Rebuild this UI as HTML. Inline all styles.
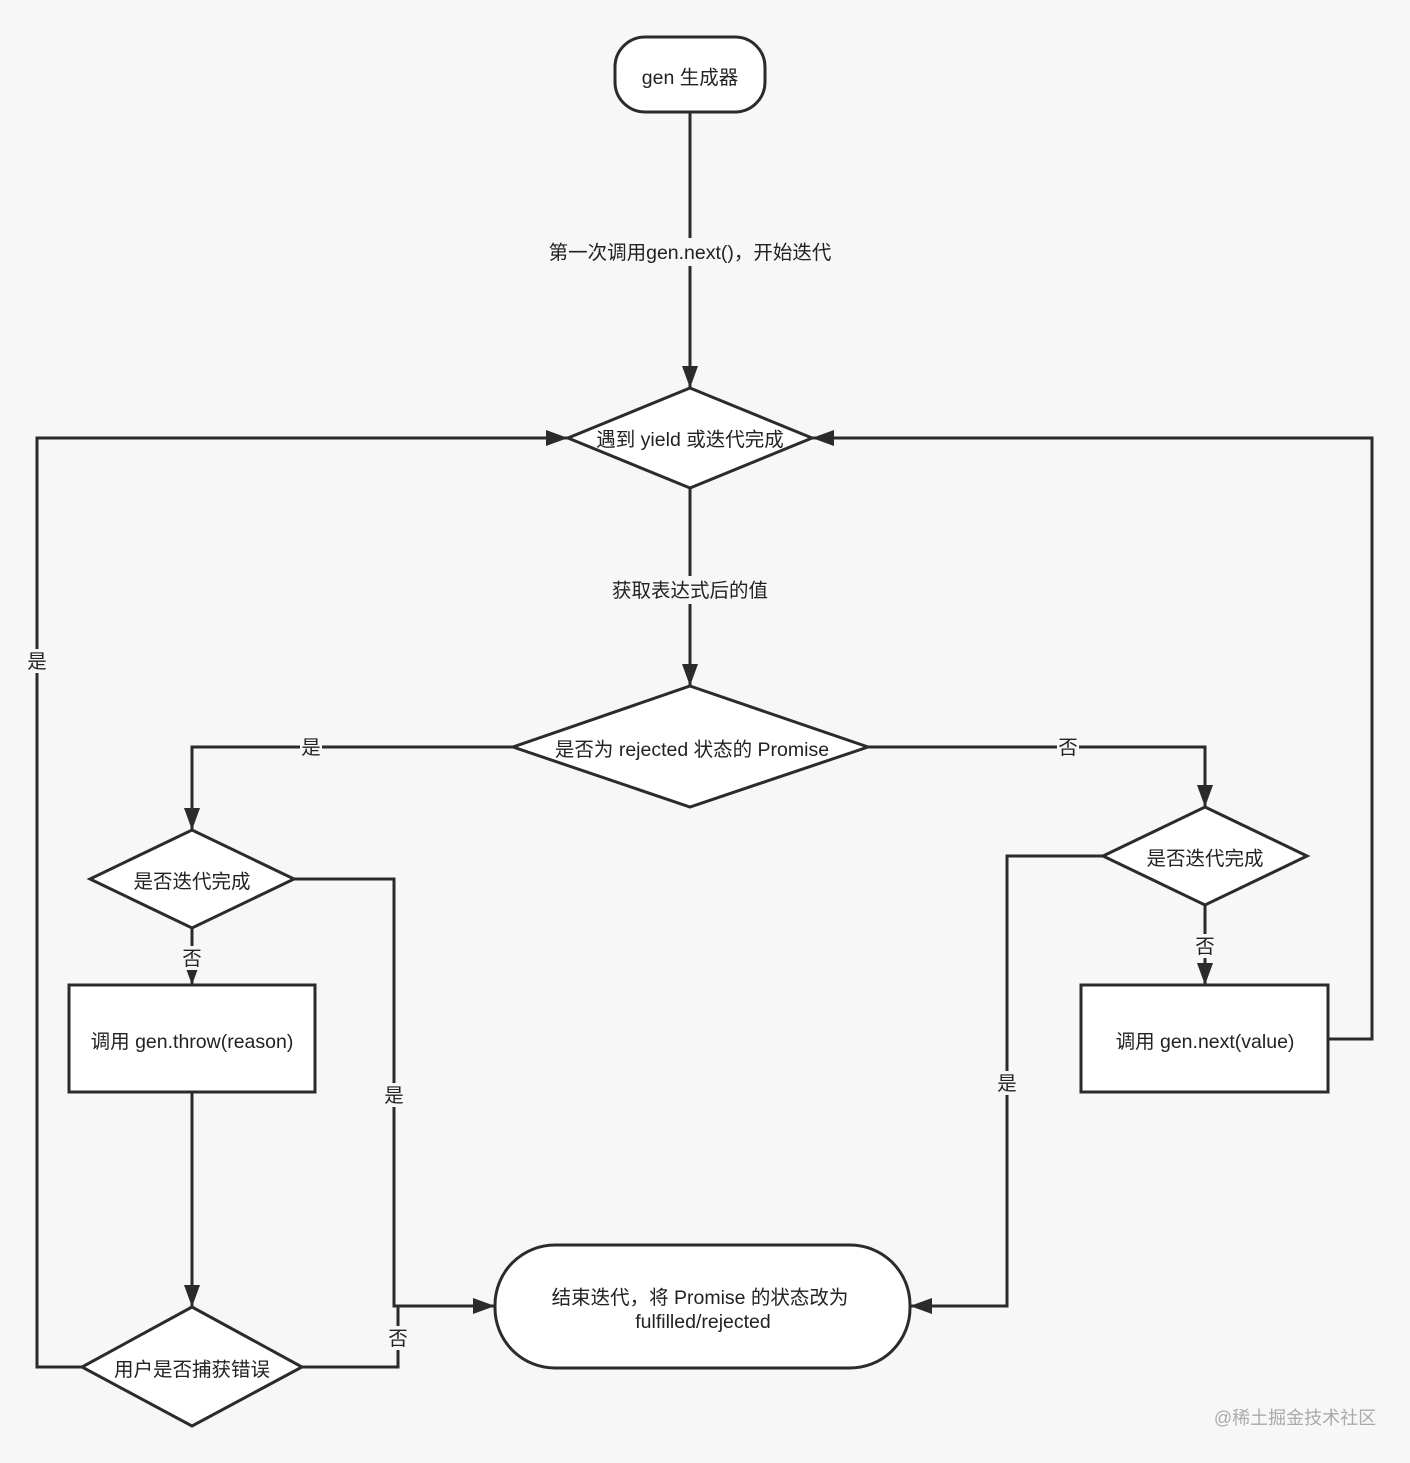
<!DOCTYPE html>
<html><head><meta charset="utf-8"><style>
html,body{margin:0;padding:0;background:#f7f7f7;}
svg{display:block;}
text{font-family:"Liberation Sans","Noto Sans CJK SC",sans-serif;font-size:19.5px;fill:#222;}
</style></head><body>
<svg width="1410" height="1463" viewBox="0 0 1410 1463" xmlns="http://www.w3.org/2000/svg">
<defs>
<marker id="b" markerWidth="22" markerHeight="22" refX="22" refY="11" orient="auto" markerUnits="userSpaceOnUse" viewBox="0 0 22 22">
<path d="M0,3 L22,11 L0,19 z" fill="#2b2b2b"/>
</marker>
</defs>
<rect width="1410" height="1463" fill="#f7f7f7"/>
<g stroke="#2b2b2b" stroke-width="3" fill="none">
<path d="M690,112 V388" marker-end="url(#b)"/>
<path d="M690,488 V686" marker-end="url(#b)"/>
<path d="M513,747 H192 V830" marker-end="url(#b)"/>
<path d="M868,747 H1205 V807" marker-end="url(#b)"/>
<path d="M192,928 V985" marker-end="url(#b)"/>
<path d="M192,1092 V1307" marker-end="url(#b)"/>
<path d="M82,1367 H37 V438 H568" marker-end="url(#b)"/>
<path d="M302,1367 H398 V1306"/>
<path d="M294,879 H394 V1306 H495" marker-end="url(#b)"/>
<path d="M1205,905 V985" marker-end="url(#b)"/>
<path d="M1328,1039 H1372 V438 H812" marker-end="url(#b)"/>
<path d="M1103,856 H1007 V1306 H910" marker-end="url(#b)"/>
</g>
<g stroke="#2b2b2b" stroke-width="3" fill="#fff">
<rect x="615" y="37" width="150" height="75" rx="30"/>
<polygon points="690,388 812,438 690,488 568,438"/>
<polygon points="690,686 868,747 690,807 513,747"/>
<polygon points="192,830 294,879 192,928 90,879"/>
<rect x="69" y="985" width="246" height="107"/>
<polygon points="192,1307 302,1367 192,1426 82,1367"/>
<rect x="495" y="1245" width="415" height="123" rx="60"/>
<polygon points="1205,807 1307,856 1205,905 1103,856"/>
<rect x="1081" y="985" width="247" height="107"/>
</g>
<g fill="#f7f7f7">
<rect x="545" y="238" width="290" height="28"/>
<rect x="610" y="576" width="162" height="28"/>
<rect x="300" y="735" width="22" height="24"/>
<rect x="1057" y="735" width="22" height="24"/>
<rect x="26" y="649" width="22" height="24"/>
<rect x="181" y="946" width="22" height="24"/>
<rect x="383" y="1083" width="22" height="24"/>
<rect x="387" y="1326" width="22" height="24"/>
<rect x="1194" y="934" width="22" height="24"/>
<rect x="996" y="1071" width="22" height="24"/>
</g>
<g text-anchor="middle">
<text x="690" y="84">gen 生成器</text>
<text x="690" y="259">第一次调用gen.next()，开始迭代</text>
<text x="690" y="446">遇到 yield 或迭代完成</text>
<text x="690" y="597">获取表达式后的值</text>
<text x="692" y="756">是否为 rejected 状态的 Promise</text>
<text x="311" y="754">是</text>
<text x="1068" y="754">否</text>
<text x="192" y="888">是否迭代完成</text>
<text x="192" y="965">否</text>
<text x="192" y="1048">调用 gen.throw(reason)</text>
<text x="37" y="668">是</text>
<text x="394" y="1102">是</text>
<text x="398" y="1345">否</text>
<text x="192" y="1376">用户是否捕获错误</text>
<text x="700" y="1304">结束迭代，将 Promise 的状态改为</text>
<text x="703" y="1328">fulfilled/rejected</text>
<text x="1205" y="865">是否迭代完成</text>
<text x="1205" y="953">否</text>
<text x="1205" y="1048">调用 gen.next(value)</text>
<text x="1007" y="1090">是</text>
<text x="1295" y="1424" style="fill:#aaa;font-size:18px">@稀土掘金技术社区</text>
</g>
</svg>
</body></html>
